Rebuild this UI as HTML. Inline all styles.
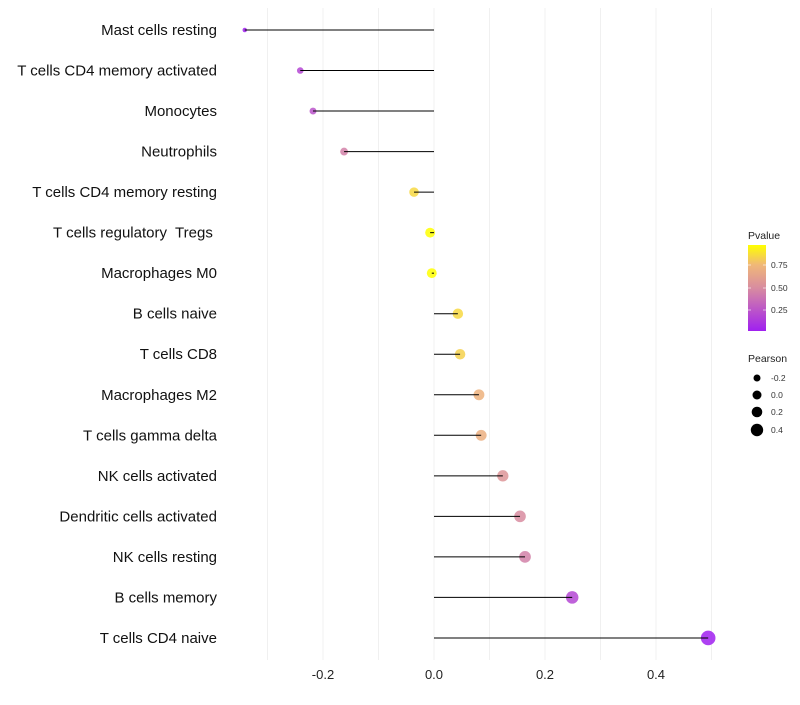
<!DOCTYPE html>
<html><head><meta charset="utf-8"><style>
body{margin:0;background:#fff;font-family:"Liberation Sans",sans-serif}
svg text{font-family:"Liberation Sans",sans-serif;white-space:pre}
</style></head><body>
<svg id="chart" width="800" height="700" xmlns="http://www.w3.org/2000/svg">
<defs><linearGradient id="pg" x1="0" y1="1" x2="0" y2="0">
<stop offset="0" stop-color="#A020F0"/><stop offset="0.5" stop-color="#D88CA0"/><stop offset="0.77" stop-color="#F0B878"/><stop offset="1" stop-color="#FFFF00"/>
</linearGradient></defs>
<g id="grid"></g>
<g id="marks"></g>
<g id="labels"></g>
<g id="xt"></g>
<g>
<text x="748" y="239" font-size="10.5" fill="#222">Pvalue</text>
<rect x="748" y="245" width="18" height="86" fill="url(#pg)"/>
<line x1="748" y1="265" x2="751" y2="265" stroke="#fff" stroke-opacity="0.6"/><line x1="763" y1="265" x2="766" y2="265" stroke="#fff" stroke-opacity="0.6"/>
<line x1="748" y1="288" x2="751" y2="288" stroke="#fff" stroke-opacity="0.6"/><line x1="763" y1="288" x2="766" y2="288" stroke="#fff" stroke-opacity="0.6"/>
<line x1="748" y1="310" x2="751" y2="310" stroke="#fff" stroke-opacity="0.6"/><line x1="763" y1="310" x2="766" y2="310" stroke="#fff" stroke-opacity="0.6"/>
<text x="771" y="268" font-size="8.5" fill="#333">0.75</text>
<text x="771" y="291" font-size="8.5" fill="#333">0.50</text>
<text x="771" y="313" font-size="8.5" fill="#333">0.25</text>
</g>
<g>
<text x="748" y="362" font-size="10.5" fill="#222">Pearson</text>
<circle cx="757" cy="378" r="3.5" fill="#000"/><text x="771" y="381" font-size="8.5" fill="#333">-0.2</text>
<circle cx="757" cy="395" r="4.5" fill="#000"/><text x="771" y="398" font-size="8.5" fill="#333">0.0</text>
<circle cx="757" cy="412" r="5.3" fill="#000"/><text x="771" y="415" font-size="8.5" fill="#333">0.2</text>
<circle cx="757" cy="430" r="6.2" fill="#000"/><text x="771" y="433" font-size="8.5" fill="#333">0.4</text>
</g>
</svg>
<script>
const categories=["Mast cells resting","T cells CD4 memory activated","Monocytes","Neutrophils","T cells CD4 memory resting","T cells regulatory  Tregs ","Macrophages M0","B cells naive","T cells CD8","Macrophages M2","T cells gamma delta","NK cells activated","Dendritic cells activated","NK cells resting","B cells memory","T cells CD4 naive"];
const pearson=[-0.341,-0.241,-0.218,-0.162,-0.036,-0.007,-0.004,0.043,0.047,0.081,0.085,0.124,0.155,0.164,0.249,0.494];
const pvalue=[0.03,0.2,0.25,0.45,0.85,0.97,0.97,0.85,0.83,0.72,0.7,0.55,0.5,0.45,0.2,0.03];
const xTicks=[-0.2,0,0.2,0.4];
const xTickLabels=["-0.2","0.0","0.2","0.4"];
const NS="http://www.w3.org/2000/svg";
const X=v=>434+v*555;
const Y=i=>30+i*40.53;
const R=v=>Math.sqrt(5+58*(v+0.34));
function mix(a,b,t){return a.map((x,k)=>Math.round(x+(b[k]-x)*t));}
const stops=[[0,[160,32,240]],[0.5,[216,140,160]],[0.77,[240,184,120]],[1,[255,255,0]]];
function col(p){let t=(p-0.028)/(0.97-0.028);t=Math.max(0,Math.min(1,t));for(let k=1;k<stops.length;k++){if(t<=stops[k][0]){const a=stops[k-1],b=stops[k];const c=mix(a[1],b[1],(t-a[0])/(b[0]-a[0]));return `rgb(${c})`;}}return 'rgb(255,255,0)';}
function mk(tag,attrs,parent){const e=document.createElementNS(NS,tag);for(const k in attrs)e.setAttribute(k,attrs[k]);parent.appendChild(e);return e;}
const grid=document.getElementById('grid'),marks=document.getElementById('marks'),labels=document.getElementById('labels'),xt=document.getElementById('xt');
for(let v=-0.3;v<=0.5001;v+=0.1){const g=mk('line',{x1:X(v),x2:X(v),y1:8,y2:660,stroke:'#f0f0f0','stroke-width':1},grid);

}
xTicks.forEach((v,i)=>{const t=mk('text',{x:X(v),y:679,'font-size':13,'text-anchor':'middle',fill:'#222'},xt);t.textContent=xTickLabels[i];

});
categories.forEach((c,i)=>{
const p=mk('circle',{cx:X(pearson[i]),cy:Y(i),r:R(pearson[i]),fill:col(pvalue[i]),'fill-opacity':0.85},marks);


const l=mk('line',{x1:X(0),x2:X(pearson[i]),y1:Y(i),y2:Y(i),stroke:'#000','stroke-width':1},marks);


const t=mk('text',{x:217,y:Y(i)+5,'font-size':15,'text-anchor':'end',fill:'#111'},labels);t.textContent=c;


});
</script>
</body></html>
